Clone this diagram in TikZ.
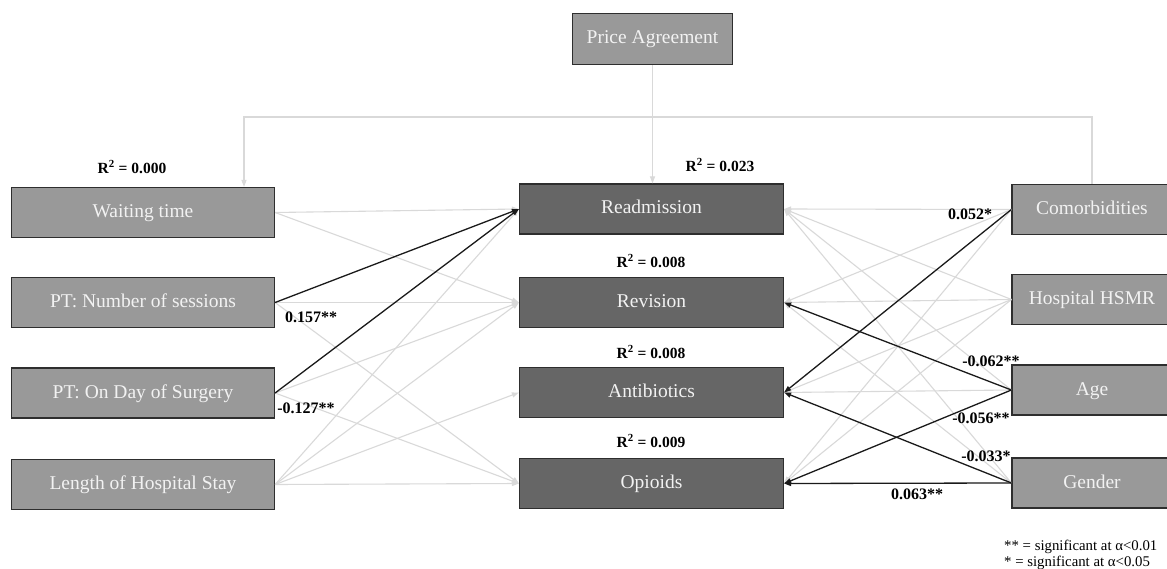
\documentclass[tikz,border=0pt]{standalone}
\usepackage{fontspec}
\setmainfont{Liberation Serif}
\usetikzlibrary{arrows.meta}
\definecolor{boxlight}{HTML}{999999}
\definecolor{boxdark}{HTML}{666666}
\definecolor{boxborder}{HTML}{2E2E2E}
\definecolor{boxtext}{HTML}{F2F2F2}
\definecolor{linegrey}{HTML}{D9D9D9}
\definecolor{lineblack}{HTML}{1A1A1A}
\begin{document}
\begin{tikzpicture}[x=1pt,y=-1pt,
  box/.style={draw=boxborder, line width=1.2pt, minimum height=50pt, inner sep=0pt, text=boxtext, font=\fontsize{19.5}{22}\selectfont, text height=13pt, text depth=3pt},
  leftbox/.style={box, fill=boxlight, minimum width=263pt},
  midbox/.style={box, fill=boxdark, minimum width=264pt},
  rightbox/.style={box, fill=boxlight, minimum width=160pt},
  weak/.style={draw=linegrey, line width=1.1pt, -{Triangle[length=7pt,width=5pt]}},
  strong/.style={draw=lineblack, line width=1.3pt, -{Triangle[length=7pt,width=5pt]}},
  rlab/.style={font=\bfseries\fontsize{15.5}{18}\selectfont, text=black},
  elab/.style={font=\bfseries\fontsize{16}{18}\selectfont, text=black},
  note/.style={font=\fontsize{14.8}{16}\selectfont, anchor=west, text=black, inner sep=0pt}]
\clip (0,0) rectangle (1167,569);
\fill[white] (0,0) rectangle (1167,569);

% nodes
\node[leftbox] (wt) at (143,212.5) {Waiting time};
\node[leftbox] (ptn) at (143,302.5) {PT: Number of sessions};
\node[leftbox] (ptd) at (143,393) {PT: On Day of Surgery};
\node[leftbox] (los) at (143,484.5) {Length of Hospital Stay};
\node[midbox] (rea) at (651.5,209) {Readmission};
\node[midbox] (rev) at (651.5,302.5) {Revision};
\node[midbox] (ant) at (651.5,392.5) {Antibiotics};
\node[midbox] (opi) at (651.5,483.5) {Opioids};
\node[rightbox] (com) at (1092,209.5) {Comorbidities};
\node[rightbox] (hsm) at (1092,299.5) {Hospital HSMR};
\node[rightbox] (age) at (1092,390) {Age};
\node[rightbox] (gen) at (1092,483) {Gender};
\node[box, fill=boxlight, minimum width=160pt, minimum height=51pt] (pa) at (652.5,39) {Price Agreement};

% feedback / top connectors
\coordinate (loopL) at (244,117);
\draw[weak] (com.north) |- (loopL) -- (loopL |- wt.north);
\draw[weak] (pa.south) -- (pa.south |- rea.north);

% left grey connectors
\draw[weak] (wt.east) -- (rea.west);
\draw[weak] (wt.east) -- (rev.west);
\draw[weak] (ptn.east) -- (rev.west);
\draw[weak] (ptn.east) -- (opi.west);
\draw[weak] (ptd.east) -- (rev.west);
\draw[weak] (ptd.east) -- (opi.west);
\draw[weak] (los.east) -- (rea.west);
\draw[weak] (los.east) -- (rev.west);
\draw[weak] (los.east) -- (ant.west);
\draw[weak] (los.east) -- (opi.west);

% right grey connectors
\draw[weak] (com.west) -- (rea.east);
\draw[weak] (com.west) -- (rev.east);
\draw[weak] (com.west) -- (opi.east);
\draw[weak] (hsm.west) -- (rea.east);
\draw[weak] (hsm.west) -- (rev.east);
\draw[weak] (hsm.west) -- (ant.east);
\draw[weak] (hsm.west) -- (opi.east);
\draw[weak] (age.west) -- (rea.east);
\draw[weak] (age.west) -- (ant.east);
\draw[weak] (gen.west) -- (rea.east);
\draw[weak] (gen.west) -- (rev.east);

% significant connectors
\draw[strong] (ptn.east) -- (rea.west);
\draw[strong] (ptd.east) -- (rea.west);
\draw[strong] (com.west) -- (ant.east);
\draw[strong] (age.west) -- (rev.east);
\draw[strong] (age.west) -- (opi.east);
\draw[strong] (gen.west) -- (ant.east);
\draw[strong] (gen.west) -- (opi.east);

% R2 labels
\node[rlab] (r0) at (132,167) {R\textsuperscript{2} = 0.000};
\node[rlab] (r1) at (720,165) {R\textsuperscript{2} = 0.023};
\node[rlab] (r2) at (651,261) {R\textsuperscript{2} = 0.008};
\node[rlab] (r3) at (651,352) {R\textsuperscript{2} = 0.008};
\node[rlab] (r4) at (651,441) {R\textsuperscript{2} = 0.009};

% coefficient labels
\node[elab] (l1) at (311,317) {0.157**};
\node[elab] (l2) at (306,408) {-0.127**};
\node[elab] (l3) at (970,214) {0.052*};
\node[elab] (l4) at (991,361) {-0.062**};
\node[elab] (l5) at (981,418) {-0.056**};
\node[elab] (l6) at (986,456) {-0.033*};
\node[elab] (l7) at (917,494) {0.063**};

% legend
\node[note] (n1) at (1004,547) {** = significant at α<0.01};
\node[note] (n2) at (1004,563) {* = significant at α<0.05};
\end{tikzpicture}
\end{document}
